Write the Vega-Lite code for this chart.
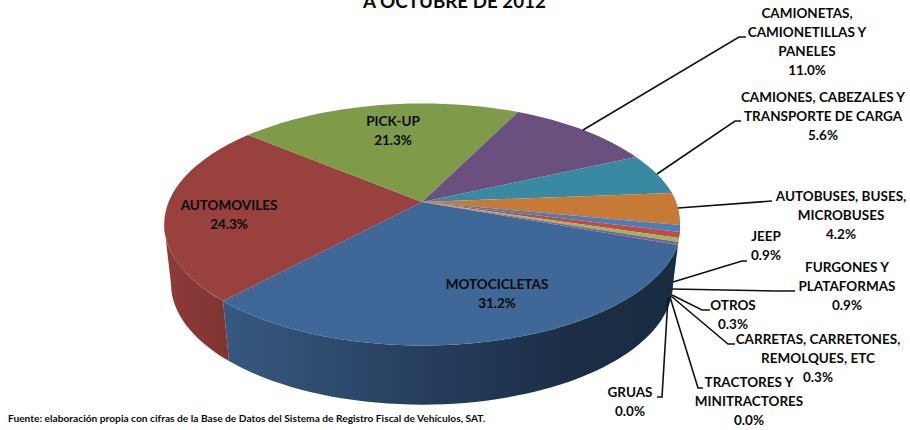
{
"$schema":"https://vega.github.io/schema/vega-lite/v6.json",
"width":910,"height":430,"padding":0,"autosize":"none","background":"white",
"config":{"view":{"stroke":null}},
"datasets":{
"caras":[
{"cara":"MOTOCICLETAS","pct":31.2,"tipo":"superior"},
{"cara":"AUTOMOVILES","pct":24.3,"tipo":"superior"},
{"cara":"PICK-UP","pct":21.3,"tipo":"superior"},
{"cara":"CAMIONETAS, CAMIONETILLAS Y PANELES","pct":11.0,"tipo":"superior"},
{"cara":"CAMIONES, CABEZALES Y TRANSPORTE DE CARGA","pct":5.6,"tipo":"superior"},
{"cara":"AUTOBUSES, BUSES, MICROBUSES","pct":4.2,"tipo":"superior"},
{"cara":"JEEP","pct":0.9,"tipo":"superior"},
{"cara":"FURGONES Y PLATAFORMAS","pct":0.9,"tipo":"superior"},
{"cara":"OTROS","pct":0.3,"tipo":"superior"},
{"cara":"CARRETAS, CARRETONES, REMOLQUES, ETC","pct":0.3,"tipo":"superior"},
{"cara":"lateral MOTOCICLETAS","pct":31.2,"tipo":"lateral1"},
{"cara":"lateral AUTOMOVILES","pct":24.3,"tipo":"lateral2"}
],
"guias":[
{"g":"CAMIONETAS","o":1,"px":583,"py":130},{"g":"CAMIONETAS","o":2,"px":739,"py":37},{"g":"CAMIONETAS","o":3,"px":746,"py":37},
{"g":"CAMIONES","o":1,"px":657,"py":174},{"g":"CAMIONES","o":2,"px":735,"py":121},{"g":"CAMIONES","o":3,"px":741,"py":121},
{"g":"AUTOBUSES","o":1,"px":678,"py":208},{"g":"AUTOBUSES","o":2,"px":772,"py":201},
{"g":"JEEP","o":1,"px":673,"py":282},{"g":"JEEP","o":2,"px":742,"py":261},{"g":"JEEP","o":3,"px":747,"py":261},
{"g":"FURGONES","o":1,"px":672,"py":289},{"g":"FURGONES","o":2,"px":777,"py":291},{"g":"FURGONES","o":3,"px":795,"py":291},
{"g":"OTROS","o":1,"px":672,"py":295},{"g":"OTROS","o":2,"px":702,"py":310},{"g":"OTROS","o":3,"px":710,"py":310},
{"g":"CARRETAS","o":1,"px":671,"py":296},{"g":"CARRETAS","o":2,"px":728,"py":344},{"g":"CARRETAS","o":3,"px":735,"py":344},
{"g":"TRACTORES","o":1,"px":670,"py":297},{"g":"TRACTORES","o":2,"px":698,"py":388},{"g":"TRACTORES","o":3,"px":703,"py":388},
{"g":"GRUAS","o":1,"px":668,"py":298},{"g":"GRUAS","o":2,"px":662,"py":397},{"g":"GRUAS","o":3,"px":657,"py":397}
],
"etiquetas":[
{"t":"CAMIONETAS,\nCAMIONETILLAS Y\nPANELES\n11.0%","px":807,"py":14},
{"t":"CAMIONES, CABEZALES Y\nTRANSPORTE DE CARGA\n5.6%","px":823,"py":98},
{"t":"AUTOBUSES, BUSES,\nMICROBUSES\n4.2%","px":841,"py":197},
{"t":"JEEP\n0.9%","px":766,"py":237},
{"t":"FURGONES Y\nPLATAFORMAS\n0.9%","px":847,"py":268},
{"t":"OTROS\n0.3%","px":733,"py":306},
{"t":"CARRETAS, CARRETONES,\nREMOLQUES, ETC\n0.3%","px":818,"py":340},
{"t":"TRACTORES Y\nMINITRACTORES\n0.0%","px":749,"py":383},
{"t":"GRUAS\n0.0%","px":630,"py":393},
{"t":"AUTOMOVILES\n24.3%","px":229,"py":206},
{"t":"PICK-UP\n21.3%","px":393,"py":122},
{"t":"MOTOCICLETAS\n31.2%","px":497,"py":285}
],
"titulo":[{"t":"A OCTUBRE DE 2012","px":454.5,"py":2.3}],
"fuente":[{"t":"Fuente: elaboración propia con cifras de la Base de Datos del Sistema de Registro Fiscal de Vehículos, SAT.","px":8,"py":419}]
},
"layer":[
{"data":{"name":"caras"},
 "encoding":{"shape":{"field":"cara","legend":null,"scale":{
  "domain":["MOTOCICLETAS","AUTOMOVILES","PICK-UP","CAMIONETAS, CAMIONETILLAS Y PANELES","CAMIONES, CABEZALES Y TRANSPORTE DE CARGA","AUTOBUSES, BUSES, MICROBUSES","JEEP","FURGONES Y PLATAFORMAS","OTROS","CARRETAS, CARRETONES, REMOLQUES, ETC","lateral MOTOCICLETAS","lateral AUTOMOVILES"],
  "range":[
  "M-33,-13L223,30A258.5,121,0,0,1,-232,86Z",
  "M-33,-13L-232,86A258.5,121,0,0,1,-207,-80Z",
  "M-33,-13L-207,-80A258.5,121,0,0,1,63,-103Z",
  "M-33,-13L63,-103A258.5,121,0,0,1,181,-58Z",
  "M-33,-13L181,-58A258.5,121,0,0,1,217,-22Z",
  "M-33,-13L217,-22A258.5,121,0,0,1,225,10Z",
  "M-33,-13L225,10A258.5,121,0,0,1,225,17Z",
  "M-33,-13L225,17A258.5,121,0,0,1,224,23Z",
  "M-33,-13L224,23A258.5,121,0,0,1,223.5,27Z",
  "M-33,-13L223.5,27A258.5,121,0,0,1,223,30Z",
  "M-232,86A258.5,121,0,0,0,223,30L218,69A251,121,0,0,1,-226,146Z",
  "M-291,9A258.5,121,0,0,0,-232,86L-226,146A251,121,0,0,1,-284,69Z"
  ]}}},
 "layer":[
 {"transform":[{"filter":"datum.tipo==='lateral1'"}],
  "mark":{"type":"point","filled":true,"opacity":1,"size":4,"strokeWidth":0,
   "color":{"gradient":"linear","x1":0,"y1":0,"x2":1,"y2":0,"stops":[{"offset":0,"color":"#37597f"},{"offset":0.5,"color":"#243a5a"},{"offset":0.8,"color":"#1a2d44"},{"offset":1,"color":"#182c42"}]}}},
 {"transform":[{"filter":"datum.tipo==='lateral2'"}],
  "mark":{"type":"point","filled":true,"opacity":1,"size":4,"strokeWidth":0,
   "color":{"gradient":"linear","x1":0,"y1":0,"x2":1,"y2":0,"stops":[{"offset":0,"color":"#8c3b39"},{"offset":1,"color":"#7f3432"}]}}},
 {"transform":[{"filter":"datum.tipo==='superior'"}],
  "mark":{"type":"point","filled":true,"opacity":1,"size":4,"strokeWidth":0},
  "encoding":{"color":{"field":"cara","legend":null,"scale":{
   "domain":["MOTOCICLETAS","AUTOMOVILES","PICK-UP","CAMIONETAS, CAMIONETILLAS Y PANELES","CAMIONES, CABEZALES Y TRANSPORTE DE CARGA","AUTOBUSES, BUSES, MICROBUSES","JEEP","FURGONES Y PLATAFORMAS","OTROS","CARRETAS, CARRETONES, REMOLQUES, ETC"],
   "range":["#3f6797","#98413e","#7f9a48","#69507f","#3a89a2","#c67a36","#4a7ebb","#be4b48","#98b954","#7d60a0"]}}}}
 ]},
{"data":{"name":"guias"},
 "mark":{"type":"line","color":"#111111","strokeWidth":1.6,"interpolate":"linear"},
 "encoding":{
  "x":{"field":"px","type":"quantitative","axis":null,"scale":{"domain":[0,910],"nice":false,"zero":false}},
  "y":{"field":"py","type":"quantitative","axis":null,"scale":{"domain":[0,430],"range":[0,430],"nice":false,"zero":false}},
  "detail":{"field":"g"},"order":{"field":"o"}}},
{"data":{"name":"etiquetas"},
 "mark":{"type":"text","font":"Lato","fontWeight":"bold","fontSize":13.5,"lineHeight":19,"lineBreak":"\n","align":"center","baseline":"middle","color":"#0a0a0a"},
 "encoding":{
  "x":{"field":"px","type":"quantitative","axis":null,"scale":{"domain":[0,910],"nice":false,"zero":false}},
  "y":{"field":"py","type":"quantitative","axis":null,"scale":{"domain":[0,430],"range":[0,430],"nice":false,"zero":false}},
  "text":{"field":"t"}}},
{"data":{"name":"titulo"},
 "mark":{"type":"text","font":"Lato","fontWeight":"bold","fontSize":18.8,"align":"center","baseline":"middle","color":"#0a0a0a"},
 "encoding":{
  "x":{"field":"px","type":"quantitative","axis":null,"scale":{"domain":[0,910],"nice":false,"zero":false}},
  "y":{"field":"py","type":"quantitative","axis":null,"scale":{"domain":[0,430],"range":[0,430],"nice":false,"zero":false}},
  "text":{"field":"t"}}},
{"data":{"name":"fuente"},
 "mark":{"type":"text","font":"Lato","fontWeight":"bold","fontSize":10.2,"align":"left","baseline":"middle","color":"#0a0a0a"},
 "encoding":{
  "x":{"field":"px","type":"quantitative","axis":null,"scale":{"domain":[0,910],"nice":false,"zero":false}},
  "y":{"field":"py","type":"quantitative","axis":null,"scale":{"domain":[0,430],"range":[0,430],"nice":false,"zero":false}},
  "text":{"field":"t"}}}
]
}
